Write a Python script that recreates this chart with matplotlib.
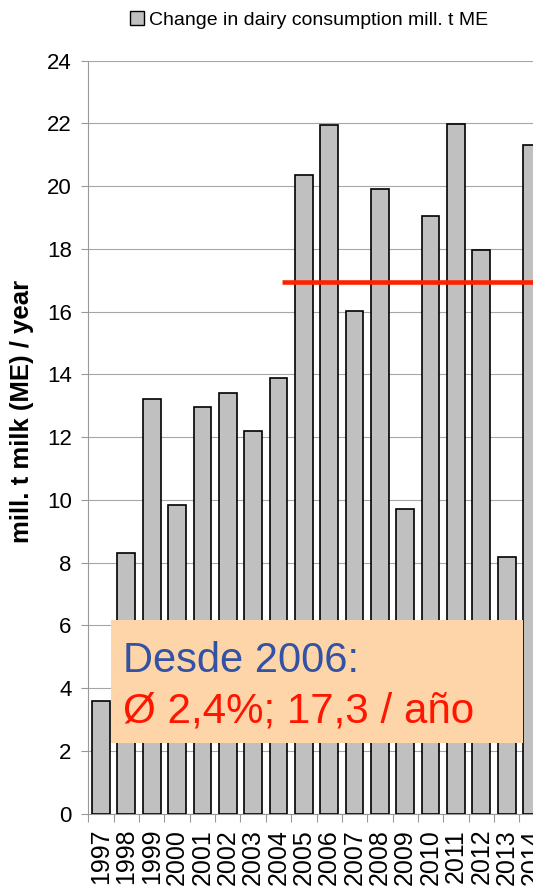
import matplotlib
matplotlib.use("Agg")
import matplotlib.pyplot as plt
from matplotlib.patches import Patch, Rectangle
import numpy as np

plt.rcParams['font.family'] = ['Liberation Sans', 'DejaVu Sans']

# Data
years = ["1997", "1998", "1999", "2000", "2001", "2002", "2003", "2004", "2005",
         "2006", "2007", "2008", "2009", "2010", "2011", "2012", "2013", "2014"]
change = [3.60, 8.30, 13.21, 9.83, 12.97, 13.41, 12.19, 13.87, 20.34,
          21.96, 16.03, 19.91, 9.71, 19.05, 21.99, 17.95, 8.18, 21.30]
avg_level = 16.95
avg_from = 7.15   # starts inside the 2004 slot
legend_label = "Change in dairy consumption mill. t ME"
ylabel = "mill. t milk (ME) / year"
box_line1 = "Desde 2006:"
box_line2 = "Ø 2,4%; 17,3 / año"

W, H = 533, 886
fig = plt.figure(figsize=(W / 100, H / 100), dpi=100)
# plot area runs past the right edge of the picture (2014 is cut off)
ax = fig.add_axes([88.3 / W, (H - 813.5) / H, 456.4 / W, 752.9 / H])

x = np.arange(len(years))
ax.bar(x, change, width=0.7, color="#C0C0C0", edgecolor="black",
       linewidth=1.2, zorder=3)
ax.plot([avg_from, len(years)], [avg_level, avg_level], color="#FF2200",
        linewidth=3.3, solid_capstyle="butt", zorder=4)

ax.set_xlim(-0.5, len(years) - 0.5)
ax.set_ylim(0, 24)
ax.set_yticks(np.arange(0, 25, 2))
ax.set_xticks(x)
ax.set_xticklabels(years, rotation=90, fontsize=18)
ax.set_xticks(np.arange(-0.5, len(years), 1), minor=True)
ax.tick_params(axis="x", which="major", length=0, pad=11)
ax.tick_params(axis="x", which="minor", length=6, color="#999999", width=0.8)
ax.tick_params(axis="y", length=5, color="#999999", width=0.8, labelsize=16, pad=7)
ax.grid(axis="y", color="#A6A6A6", linewidth=0.8, zorder=0)
ax.set_axisbelow(True)
for s in ["top", "right"]:
    ax.spines[s].set_visible(False)
for s in ["left", "bottom"]:
    ax.spines[s].set_color("#999999")
    ax.spines[s].set_linewidth(0.8)

fig.text(21.7 / W, 1 - 411 / H, ylabel, rotation=90, fontsize=18.5,
         fontweight="bold", ha="center", va="center")

fig.legend(handles=[Patch(facecolor="#C0C0C0", edgecolor="black", linewidth=1)],
           labels=[legend_label], loc="center",
           bbox_to_anchor=(309 / W, 1 - 20 / H), frameon=False,
           handlelength=0.7, handleheight=0.7, handletextpad=0.25,
           prop={"family": ["Liberation Sans Narrow", "Liberation Sans"], "size": 14})

# annotation box
box = Rectangle((111 / W, 1 - 742.7 / H), (522.7 - 111) / W, (742.7 - 620) / H,
                transform=fig.transFigure, facecolor="#FDD5A8", edgecolor="none",
                zorder=10)
fig.patches.append(box)
fig.text(123 / W, 1 - 672 / H, box_line1, fontsize=30, color="#3252A5",
         va="baseline", zorder=11)
fig.text(123 / W, 1 - 722 / H, box_line2, fontsize=30.3, color="#FF1500",
         va="baseline", zorder=11)

fig.savefig("out.png", dpi=100)
